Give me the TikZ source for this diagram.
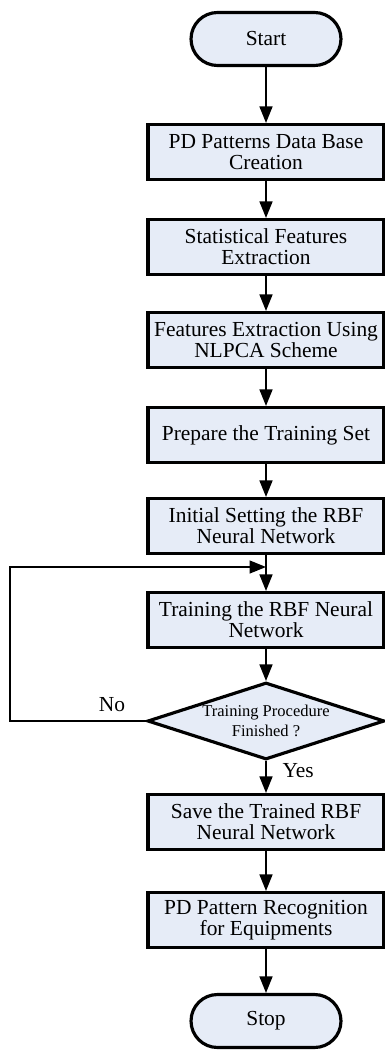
\documentclass[tikz,border=0pt]{standalone}
\usepackage{fontspec}
\setmainfont{Liberation Serif}
\usepackage{tikz}
\usetikzlibrary{shapes.geometric,arrows.meta,positioning}
\definecolor{boxfill}{RGB}{230,236,247}

\begin{document}
\begin{tikzpicture}[
  x=0.02cm, y=-0.02cm,
  box/.style={draw, line width=1.8pt, fill=boxfill, font=\fontsize{12.2}{11.8}\selectfont, minimum height=1.1cm, minimum width=4.72cm, inner sep=1pt, align=center},
  term/.style={draw, line width=1.8pt, fill=boxfill, font=\fontsize{12.2}{11.8}\selectfont, minimum height=1.06cm, minimum width=3.0cm, rounded corners=0.53cm},
  dec/.style={draw, line width=1.8pt, fill=boxfill, shape=diamond, minimum width=4.74cm, minimum height=1.54cm, inner sep=0pt},
  msg/.style={-{Triangle[length=0.33cm, width=0.26cm]}, line width=0.85pt},
  lbl/.style={font=\fontsize{12.2}{12}\selectfont, inner sep=1pt}
]
\useasboundingbox (0,0) rectangle (385,1051);

% Start / stop and process boxes
\node[term] (start) at (266,39)  {Start};
\node[box]  (base)  at (266,152) {PD Patterns Data Base\\Creation};
\node[box]  (stat)  at (266,247) {Statistical Features\\Extraction};
\node[box]  (nlpca) at (266,340) {Features Extraction Using\\NLPCA Scheme};
\node[box]  (set)   at (266,435) {Prepare the Training Set};
\node[box]  (init)  at (266,526) {Initial Setting the RBF\\Neural Network};
\node[box]  (train) at (266,620) {Training the RBF Neural\\Network};
\node[dec]  (done)  at (266,721) [label={[font=\fontsize{9.4}{11.3}\selectfont, align=center]center:Training Procedure\\Finished ?}] {};
\node[box]  (save)  at (266,822) {Save the Trained RBF\\Neural Network};
\node[box]  (recog) at (266,920) {PD Pattern Recognition\\for Equipments};
\node[term] (stop)  at (266,1021) {Stop};

% Join point of the loop
\coordinate (join) at (266,567);

% Main flow
\draw[msg] (start) -- (base);
\draw[msg] (base)  -- (stat);
\draw[msg] (stat)  -- (nlpca);
\draw[msg] (nlpca) -- (set);
\draw[msg] (set)   -- (init);
\draw[msg] (init)  -- (train);
\draw[msg] (train) -- (done);
\draw[msg] (done)  -- (save) node[lbl, pos=0.3, right, xshift=8pt]{Yes};
\draw[msg] (save)  -- (recog);
\draw[msg] (recog) -- (stop);

% Loop back
\draw[msg] (done.west) -- node[lbl, pos=0.25, above, yshift=4pt]{No} ++(-136,0) |- (join);
\end{tikzpicture}
\end{document}
